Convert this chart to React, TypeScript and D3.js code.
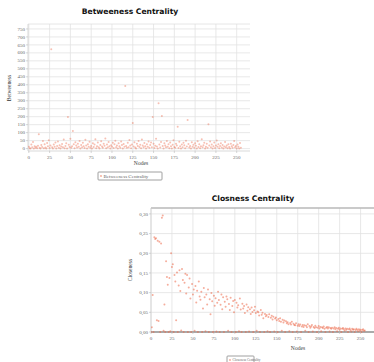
import React from 'react';
import * as d3 from 'd3';

// betweenness per node (index = node id)
const betweenness = [
  12, 3, 0, 25, 8, 41, 0, 15, 6, 12, 2, 18, 90, 5, 0, 22, 10, 47, 3, 28,
  7, 0, 35, 14, 52, 4, 19, 622, 9, 0, 26, 11, 38, 1, 16, 44, 6, 21, 0, 13,
  29, 8, 57, 3, 17, 33, 0, 198, 24, 10, 62, 5, 14, 110, 27, 2, 40, 19, 7, 31,
  12, 48, 0, 23, 9, 36, 15, 4, 55, 20, 1, 28, 11, 43, 6, 17, 0, 34, 10, 25,
  58, 3, 14, 39, 8, 0, 22, 46, 13, 5, 30, 18, 64, 2, 26, 9, 41, 15, 0, 21,
  12, 37, 4, 27, 50, 8, 19, 0, 33, 14, 6, 45, 23, 1, 29, 11, 392, 17, 5, 36,
  9, 54, 20, 2, 26, 160, 13, 40, 7, 0, 31, 16, 48, 10, 24, 3, 57, 19, 8, 35,
  14, 0, 27, 11, 44, 5, 22, 38, 9, 198, 30, 4, 18, 61, 13, 0, 285, 25, 7, 42,
  205, 16, 1, 33, 20, 8, 47, 12, 28, 3, 39, 15, 0, 24, 52, 10, 6, 31, 19, 137,
  4, 43, 14, 0, 26, 9, 36, 21, 2, 49, 13, 180, 29, 7, 17, 0, 40, 11, 24, 5,
  33, 18, 0, 46, 10, 27, 3, 15, 58, 8, 21, 37, 1, 12, 30, 6, 153, 19, 44, 9,
  25, 0, 14, 39, 4, 20, 51, 11, 28, 2, 16, 34, 7, 23, 0, 13, 42, 8, 19, 3,
  27, 10, 0, 31, 15, 5, 22, 48, 9, 17, 1, 26, 12, 0, 35, 6,
];

// closeness per node (index = node id)
const closeness = [
  0, 0.012, 0.094, 0, 0.241, 0.236, 0.238, 0.03, 0.232, 0.028, 0.229, 0, 0.225, 0.29, 0.296, 0.003, 0.07, 0, 0.18, 0.14,
  0.12, 0, 0.137, 0.002, 0.2, 0.165, 0.172, 0, 0.145, 0.128, 0.03, 0.151, 0, 0.118, 0.157, 0.104, 0.004, 0.16, 0.132, 0,
  0.125, 0.148, 0.098, 0.145, 0, 0.113, 0.136, 0.085, 0, 0.122, 0.095, 0.108, 0.003, 0.117, 0.075, 0.105, 0, 0.128, 0.09, 0.082,
  0.102, 0, 0.06, 0.112, 0.088, 0.002, 0.095, 0.07, 0.108, 0, 0.083, 0.045, 0.099, 0.078, 0, 0.092, 0.067, 0.086, 0.001, 0.074,
  0.102, 0.081, 0, 0.069, 0.095, 0.058, 0.088, 0, 0.077, 0.064, 0.09, 0.083, 0.003, 0.071, 0.056, 0.087, 0, 0.066, 0.079, 0.05,
  0.081, 0, 0.074, 0.062, 0.068, 0.002, 0.085, 0.057, 0, 0.072, 0.06, 0.066, 0.048, 0, 0.07, 0.054, 0.063, 0.001, 0.058, 0.046,
  0.062, 0.051, 0, 0.055, 0.064, 0.048, 0.003, 0.052, 0.05, 0.042, 0, 0.056, 0.044, 0.049, 0.035, 0, 0.046, 0.04, 0.043, 0.002,
  0.038, 0.045, 0, 0.036, 0.041, 0.032, 0.039, 0.001, 0.034, 0.037, 0.03, 0, 0.033, 0.028, 0.035, 0.026, 0.003, 0.031, 0.024, 0.029,
  0, 0.027, 0.022, 0.025, 0.02, 0.002, 0.023, 0.019, 0.026, 0, 0.021, 0.018, 0.017, 0.022, 0.001, 0.016, 0.02, 0.015, 0.019, 0,
  0.014, 0.018, 0.013, 0.017, 0.003, 0.016, 0.012, 0.02, 0, 0.015, 0.011, 0.014, 0.018, 0.001, 0.013, 0.01, 0.016, 0.012, 0, 0.011,
  0.015, 0.009, 0.013, 0.002, 0.012, 0.01, 0.014, 0.008, 0, 0.011, 0.013, 0.009, 0.012, 0.001, 0.01, 0.008, 0.011, 0, 0.009, 0.012,
  0.007, 0.01, 0.002, 0.008, 0.011, 0.006, 0.009, 0, 0.008, 0.01, 0.007, 0.003, 0.009, 0.006, 0.008, 0, 0.007, 0.009, 0.005, 0.001,
  0.008, 0.006, 0.007, 0, 0.005, 0.008, 0.006, 0.002, 0.007, 0.004, 0.006, 0, 0.005, 0.007, 0.003, 0.004,
];

const nodeTicks = [0, 25, 50, 75, 100, 125, 150, 175, 200, 225, 250];
const betweennessTicks = [0, 50, 100, 150, 200, 250, 300, 350, 400, 450, 500, 550, 600, 650, 700, 750];
const closenessTicks = [0, 0.05, 0.1, 0.15, 0.2, 0.25, 0.3];

const TITLE_FONT = '"DejaVu Sans", Verdana, sans-serif';
const LABEL_FONT = '"Liberation Serif", "Times New Roman", serif';
const DOT = '#ec6a4a';

const commaFmt = (d: number) => d3.format('.2f')(d).replace('.', ',');

interface PanelProps {
  values: number[];
  yTicks: number[];
  yFormat: (d: number) => string;
  yDomain: [number, number];
  xDomain: [number, number];
  plot: { left: number; right: number; top: number; bottom: number };
  title: string;
  titlePos: [number, number];
  yLabel: string;
  yLabelPos: [number, number];
  xLabelPos: [number, number];
  legend: string;
  legendBox: { x: number; y: number; w: number; h: number; font: number };
  dotOpacity: number;
  zeroLines?: boolean;
}

const ScatterPanel: React.FC<PanelProps> = (p) => {
  const x = d3.scaleLinear().domain(p.xDomain).range([p.plot.left, p.plot.right]);
  const y = d3.scaleLinear().domain(p.yDomain).range([p.plot.bottom, p.plot.top]);
  const clipId = 'clip-' + p.title.replace(/\s/g, '');

  return (
    <g>
      <defs>
        <clipPath id={clipId}>
          <rect x={p.plot.left} y={p.plot.top - 1} width={p.plot.right - p.plot.left} height={p.plot.bottom - p.plot.top + 2} />
        </clipPath>
      </defs>
      <text x={p.titlePos[0]} y={p.titlePos[1]} textAnchor="middle" fontFamily={TITLE_FONT} fontWeight="bold" fontSize={7.6} fill="#111">
        {p.title}
      </text>

      {/* grid */}
      {p.yTicks.map((t) => (
        <line key={'gy' + t} x1={p.plot.left} x2={p.plot.right} y1={y(t)} y2={y(t)} stroke="#e2e2e2" strokeWidth={0.8} />
      ))}
      {nodeTicks.map((t) => (
        <line key={'gx' + t} x1={x(t)} x2={x(t)} y1={p.plot.top} y2={p.plot.bottom} stroke="#e2e2e2" strokeWidth={0.8} />
      ))}
      <line x1={p.plot.left} x2={p.plot.right} y1={p.plot.top} y2={p.plot.top} stroke={p.zeroLines ? '#b8b8b8' : '#e0e0e0'} strokeWidth={p.zeroLines ? 1.6 : 0.8} />
      <line x1={p.plot.left} x2={p.plot.left} y1={p.plot.top} y2={p.plot.bottom} stroke="#cfcfcf" strokeWidth={0.8} />
      <line x1={p.plot.left} x2={p.plot.right} y1={p.plot.bottom} y2={p.plot.bottom} stroke={p.zeroLines ? '#aaaaaa' : '#cfcfcf'} strokeWidth={p.zeroLines ? 1.8 : 0.8} />

      {/* y axis */}
      {p.yTicks.map((t) => (
        <g key={'ty' + t}>
          <line x1={p.plot.left - 2} x2={p.plot.left} y1={y(t)} y2={y(t)} stroke="#bbb" strokeWidth={0.6} />
          <text x={p.plot.left - 3} y={y(t) + 1.6} textAnchor="end" fontFamily={LABEL_FONT} fontSize={5} fill="#666">
            {p.yFormat(t)}
          </text>
        </g>
      ))}
      {/* x axis */}
      {nodeTicks.map((t) => (
        <g key={'tx' + t}>
          <line x1={x(t)} x2={x(t)} y1={p.plot.bottom} y2={p.plot.bottom + 2} stroke="#bbb" strokeWidth={0.6} />
          <text x={x(t)} y={p.plot.bottom + 7.5} textAnchor="middle" fontFamily={LABEL_FONT} fontSize={5} fill="#666">
            {t}
          </text>
        </g>
      ))}
      <text x={p.xLabelPos[0]} y={p.xLabelPos[1]} textAnchor="middle" fontFamily={LABEL_FONT} fontSize={5.6} fill="#444">
        Nodes
      </text>
      <text
        transform={`translate(${p.yLabelPos[0]},${p.yLabelPos[1]}) rotate(-90)`}
        textAnchor="middle"
        fontFamily={LABEL_FONT}
        fontSize={5.6}
        fill="#333"
      >
        {p.yLabel}
      </text>

      {/* points */}
      <g clipPath={`url(#${clipId})`}>
        {p.values.map((v, i) => (
          <circle key={i} cx={x(i)} cy={y(v)} r={1} fill={DOT} fillOpacity={p.dotOpacity} />
        ))}
      </g>

      {/* legend */}
      <rect x={p.legendBox.x} y={p.legendBox.y} width={p.legendBox.w} height={p.legendBox.h} fill="#fff" stroke="#888" strokeWidth={0.8} rx={0.8} />
      <circle cx={p.legendBox.x + 3} cy={p.legendBox.y + p.legendBox.h / 2} r={0.9} fill={DOT} fillOpacity={0.6} />
      <text
        x={p.legendBox.x + 5.5}
        y={p.legendBox.y + p.legendBox.h / 2 + p.legendBox.font * 0.35}
        fontFamily={LABEL_FONT}
        fontSize={p.legendBox.font}
        fill="#666"
      >
        {p.legend}
      </text>
    </g>
  );
};

const App: React.FC = () => (
  <svg width={374} height={362} style={{ position: 'absolute', left: 0, top: 0, background: '#fff' }}>
    <ScatterPanel
      values={betweenness}
      yTicks={betweennessTicks}
      yFormat={(d) => String(d)}
      yDomain={[-15, 781]}
      xDomain={[-1, 266]}
      plot={{ left: 28, right: 250, top: 24, bottom: 151 }}
      title="Betweeness Centrality"
      titlePos={[130, 14]}
      yLabel="Betweeness"
      yLabelPos={[11, 88]}
      xLabelPos={[141, 165]}
      legend="Betweeness Centrality"
      legendBox={{ x: 98, y: 172, w: 64, h: 8, font: 5 }}
      dotOpacity={0.42}
    />
    <ScatterPanel
      values={closeness}
      yTicks={closenessTicks}
      yFormat={commaFmt}
      yDomain={[0, 0.315]}
      xDomain={[0, 266]}
      plot={{ left: 151, right: 374, top: 208, bottom: 332 }}
      title="Closness Centrality"
      titlePos={[253, 201]}
      yLabel="Closeness"
      yLabelPos={[132, 270]}
      xLabelPos={[298, 350]}
      legend="Closeness Centrality"
      legendBox={{ x: 227, y: 356, w: 27, h: 8, font: 3.4 }}
      dotOpacity={0.55}
      zeroLines
    />
  </svg>
);

export default App;
